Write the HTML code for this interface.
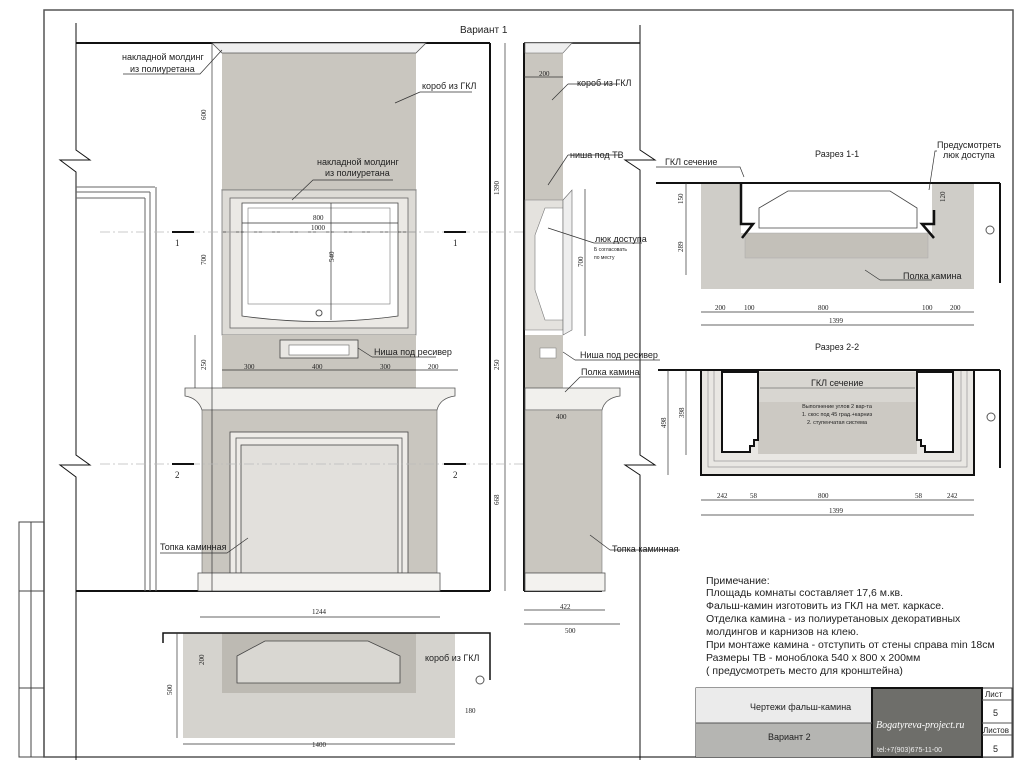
<!DOCTYPE html>
<html><head><meta charset="utf-8"><style>
html,body{margin:0;padding:0;background:#fff;}
svg{display:block;font-family:"Liberation Sans","Noto Sans CJK SC",sans-serif;}
.t{font-size:9px;fill:#222}
.d{font-family:"Liberation Serif",serif;font-size:7px;fill:#222}
</style></head><body>
<svg width="1024" height="768" viewBox="0 0 1024 768" xmlns="http://www.w3.org/2000/svg">
<rect width="1024" height="768" fill="#fff"/>
<!-- frame -->
<rect x="44" y="10" width="969" height="747" fill="none" stroke="#555" stroke-width="1.5"/>
<!-- stamp -->
<g stroke="#444" fill="none" stroke-width="1">
<rect x="19" y="522" width="25" height="235"/><line x1="31" y1="522" x2="31" y2="757"/>
<line x1="19" y1="591" x2="44" y2="591"/><line x1="19" y1="688" x2="44" y2="688"/>
</g>
<!-- FRONT VIEW -->
<g stroke="#111" fill="none">
<line x1="76" y1="43" x2="490" y2="43" stroke-width="2"/>
<line x1="490" y1="43" x2="490" y2="591" stroke-width="2"/>
<line x1="76" y1="591" x2="490" y2="591" stroke-width="2"/>
<polyline points="76,23 76,150 90,160 60,160 76,172 76,455 90,465 60,465 76,477 76,760" stroke-width="1"/>
</g>
<!-- door -->
<g stroke="#666" fill="none" stroke-width="1">
<line x1="76" y1="187" x2="155" y2="187"/><line x1="76" y1="192" x2="150" y2="192"/><line x1="76" y1="198" x2="145" y2="198"/>
<line x1="145" y1="198" x2="145" y2="591"/><line x1="150" y1="192" x2="150" y2="591"/><line x1="156" y1="187" x2="156" y2="591"/>
</g>
<!-- upper box -->
<rect x="222" y="53" width="194" height="137" fill="#c9c6bf"/>
<polygon points="212,43 426,43 416,53 222,53" fill="#eee" stroke="#555" stroke-width="0.8"/>
<polygon points="222,190 416,190 408,198 230,198" fill="#eee" stroke="#555" stroke-width="0.8"/>
<rect x="222" y="190" width="194" height="145" fill="#dddbd6" stroke="#777" stroke-width="0.8"/>
<rect x="230" y="198" width="178" height="130" fill="#ebe9e5" stroke="#666" stroke-width="0.8"/>
<path d="M242,203 H398 V316 Q320,327 242,316 Z" fill="#fff" stroke="#444" stroke-width="0.8"/>
<rect x="248" y="208" width="142" height="96" fill="none" stroke="#777" stroke-width="0.6"/>
<circle cx="319" cy="313" r="3" fill="none" stroke="#555"/>
<rect x="222" y="335" width="194" height="53" fill="#c9c6bf"/>
<rect x="280" y="340" width="78" height="18" fill="#e8e6e2" stroke="#444" stroke-width="0.8"/>
<rect x="289" y="345" width="60" height="10" fill="#fff" stroke="#666" stroke-width="0.6"/>
<!-- mantel -->
<path d="M185,388 H455 V396 Q440,398 437,410 H202 Q198,398 185,396 Z" fill="#f1f0ed" stroke="#555" stroke-width="0.8"/>
<rect x="202" y="410" width="235" height="163" fill="#c9c6bf" stroke="#666" stroke-width="0.6"/>
<rect x="230" y="432" width="178" height="141" fill="#eeece8" stroke="#444" stroke-width="0.8"/>
<rect x="236" y="438" width="166" height="135" fill="none" stroke="#555" stroke-width="0.8"/>
<rect x="241" y="445" width="157" height="128" fill="#e2e0dc" stroke="#444" stroke-width="0.8"/>
<rect x="198" y="573" width="242" height="18" fill="#f3f2ef" stroke="#555" stroke-width="0.8"/>
<!-- dims front -->
<g stroke="#333" stroke-width="0.7" fill="none">
<line x1="212" y1="43" x2="212" y2="591"/>
<line x1="505" y1="43" x2="505" y2="591"/>
<line x1="222" y1="232" x2="416" y2="232"/><line x1="242" y1="223" x2="398" y2="223"/>
<line x1="331" y1="203" x2="331" y2="320"/>
<line x1="222" y1="370" x2="458" y2="370"/>
<line x1="195" y1="335" x2="195" y2="388"/>
<line x1="200" y1="617" x2="440" y2="617"/>
<line x1="100" y1="232" x2="540" y2="232" stroke="#bbb" stroke-dasharray="10 3 2 3"/>
<line x1="100" y1="464" x2="540" y2="464" stroke="#bbb" stroke-dasharray="10 3 2 3"/>
</g>
<g stroke="#111" stroke-width="2"><line x1="172" y1="232" x2="194" y2="232"/><line x1="444" y1="232" x2="466" y2="232"/><line x1="172" y1="464" x2="194" y2="464"/><line x1="444" y1="464" x2="466" y2="464"/></g>
<g class="d">
<text x="175" y="246" font-size="9">1</text><text x="453" y="246" font-size="9">1</text>
<text x="175" y="478" font-size="9">2</text><text x="453" y="478" font-size="9">2</text>
<text x="313" y="220">800</text><text x="311" y="230">1000</text>
<text x="244" y="369">300</text><text x="312" y="369">400</text><text x="380" y="369">300</text><text x="428" y="369">200</text>
<text x="312" y="614">1244</text><text x="312" y="747">1400</text>
<text x="206" y="120" transform="rotate(-90 206 120)">600</text>
<text x="206" y="265" transform="rotate(-90 206 265)">700</text>
<text x="334" y="262" transform="rotate(-90 334 262)">540</text>
<text x="206" y="370" transform="rotate(-90 206 370)">250</text>
<text x="499" y="195" transform="rotate(-90 499 195)">1390</text>
<text x="499" y="370" transform="rotate(-90 499 370)">250</text>
<text x="499" y="505" transform="rotate(-90 499 505)">668</text>
</g>
<g class="t">
<text x="460" y="33" font-size="10">Вариант 1</text>
<text x="122" y="60">накладной молдинг</text><text x="130" y="72">из полиуретана</text>
<text x="422" y="89">короб из ГКЛ</text>
<text x="317" y="165">накладной молдинг</text><text x="325" y="176">из полиуретана</text>
<text x="374" y="355">Ниша под ресивер</text>
<text x="160" y="550">Топка каминная</text>
</g>
<g stroke="#333" stroke-width="0.7" fill="none">
<polyline points="123,74 200,74 222,50"/><polyline points="420,92 472,92"/><line x1="420" y1="92" x2="395" y2="103"/>
<polyline points="393,180 313,180 292,200"/><polyline points="372,357 436,357"/><line x1="372" y1="357" x2="358" y2="348"/>
<polyline points="160,553 227,553 248,538"/>
</g>
<!-- plan bottom -->
<rect x="183" y="633" width="272" height="105" fill="#d5d3ce"/>
<rect x="222" y="633" width="194" height="60" fill="#bdbab3"/>
<polygon points="265,641 368,641 400,656 400,683 237,683 237,656" fill="#d9d7d2" stroke="#444" stroke-width="0.8"/>
<polyline points="163,643 163,633 490,633 490,680" fill="none" stroke="#111" stroke-width="1.5"/>
<circle cx="480" cy="680" r="4" fill="none" stroke="#555"/>
<text class="t" x="425" y="661">короб из ГКЛ</text>
<g class="d"><text x="204" y="665" transform="rotate(-90 204 665)">200</text><text x="172" y="695" transform="rotate(-90 172 695)">500</text><text x="465" y="713">180</text></g>
<line x1="183" y1="744" x2="455" y2="744" stroke="#333" stroke-width="0.7"/>
<line x1="177" y1="633" x2="177" y2="738" stroke="#333" stroke-width="0.7"/>
<!-- SIDE VIEW -->
<g stroke="#111" fill="none">
<line x1="524" y1="43" x2="524" y2="591" stroke-width="2"/>
<line x1="524" y1="43" x2="640" y2="43" stroke-width="1.5"/>
<polyline points="640,25 640,150 655,160 625,160 640,170 640,455 655,465 625,465 640,475 640,760" stroke-width="1"/>
<line x1="524" y1="591" x2="602" y2="591" stroke-width="2"/>
</g>
<rect x="525" y="53" width="38" height="147" fill="#c9c6bf"/>
<polygon points="525,43 572,43 563,53 525,53" fill="#eee" stroke="#666" stroke-width="0.6"/>
<rect x="525" y="200" width="38" height="130" fill="#e4e2de" stroke="#888" stroke-width="0.6"/>
<polygon points="545,208 563,208 563,320 545,320 535,290 535,235" fill="#fff" stroke="#777" stroke-width="0.6"/>
<polygon points="563,200 572,190 572,330 563,335" fill="#eee" stroke="#666" stroke-width="0.6"/>
<rect x="525" y="335" width="38" height="53" fill="#c9c6bf"/>
<rect x="540" y="348" width="16" height="10" fill="#fff" stroke="#777" stroke-width="0.5"/>
<path d="M525,388 H620 V396 Q605,398 602,410 H525 Z" fill="#f1f0ed" stroke="#555" stroke-width="0.8"/>
<rect x="525" y="410" width="77" height="163" fill="#c9c6bf" stroke="#777" stroke-width="0.6"/>
<rect x="525" y="573" width="80" height="18" fill="#f3f2ef" stroke="#555" stroke-width="0.8"/>
<g stroke="#333" stroke-width="0.7" fill="none">
<line x1="524" y1="77" x2="563" y2="77"/><line x1="585" y1="189" x2="585" y2="336"/>
<line x1="524" y1="610" x2="605" y2="610"/><line x1="524" y1="624" x2="620" y2="624"/>
<polyline points="568,84 620,84"/><line x1="568" y1="84" x2="552" y2="100"/>
<polyline points="568,155 620,155"/><line x1="568" y1="155" x2="548" y2="185"/>
<polyline points="594,243 642,243"/><line x1="594" y1="243" x2="548" y2="228"/>
<polyline points="575,360 660,360"/><line x1="575" y1="360" x2="563" y2="352"/>
<polyline points="580,377 640,377"/><line x1="580" y1="377" x2="565" y2="392"/>
<polyline points="610,550 680,550"/><line x1="610" y1="550" x2="590" y2="535"/>
</g>
<g class="d"><text x="539" y="76">200</text><text x="556" y="419">400</text><text x="560" y="609">422</text><text x="565" y="633">500</text>
<text x="583" y="267" transform="rotate(-90 583 267)">700</text></g>
<g class="t">
<text x="577" y="86">короб из ГКЛ</text>
<text x="570" y="158">ниша под ТВ</text>
<text x="595" y="242">люк доступа</text>
<text x="594" y="251" font-size="5">Б согласовать</text><text x="594" y="259" font-size="5">по месту</text>
<text x="580" y="358">Ниша под ресивер</text>
<text x="581" y="375">Полка камина</text>
<text x="612" y="552">Топка каминная</text>
</g>
<!-- SECTION 1-1 -->
<text class="t" x="815" y="157" font-size="11">Разрез 1-1</text>
<rect x="701" y="183" width="273" height="106" fill="#cfcdc8"/>
<rect x="741" y="183" width="191" height="50" fill="#fff"/>
<rect x="745" y="233" width="183" height="25" fill="#c3c0b9" stroke="#aaa" stroke-width="0.5"/>
<polygon points="788,191 890,191 917,208 917,228 759,228 759,208" fill="#fff" stroke="#444" stroke-width="0.8"/>
<line x1="656" y1="183" x2="1000" y2="183" stroke="#111" stroke-width="2"/>
<line x1="1000" y1="183" x2="1000" y2="283" stroke="#111" stroke-width="2"/>
<polyline points="741,183 741,224 753,224 742,238" fill="none" stroke="#111" stroke-width="2.5"/>
<polyline points="934,210 934,224 922,224 934,238" fill="none" stroke="#111" stroke-width="2.5"/>
<circle cx="990" cy="230" r="4" fill="none" stroke="#555"/>
<g stroke="#333" stroke-width="0.7" fill="none">
<line x1="686" y1="183" x2="686" y2="275"/>
<line x1="701" y1="312" x2="974" y2="312"/><line x1="701" y1="325" x2="974" y2="325"/>
<polyline points="656,167 740,167 744,177"/><polyline points="937,151 935,151 929,190"/>
<polyline points="880,280 932,280"/><line x1="880" y1="280" x2="865" y2="270"/>
</g>
<g class="t"><text x="665" y="165">ГКЛ сечение</text><text x="937" y="148">Предусмотреть</text><text x="943" y="158">люк  доступа</text><text x="903" y="279">Полка камина</text></g>
<g class="d"><text x="715" y="310">200</text><text x="744" y="310">100</text><text x="818" y="310">800</text><text x="922" y="310">100</text><text x="950" y="310">200</text><text x="829" y="323">1399</text>
<text x="683" y="204" transform="rotate(-90 683 204)">150</text><text x="683" y="252" transform="rotate(-90 683 252)">289</text><text x="945" y="202" transform="rotate(-90 945 202)">120</text></g>
<!-- SECTION 2-2 -->
<text class="t" x="815" y="350" font-size="11">Разрез 2-2</text>
<rect x="701" y="370" width="273" height="105" fill="#e9e7e3" stroke="#111" stroke-width="2"/>
<rect x="708" y="370" width="259" height="97" fill="none" stroke="#888" stroke-width="0.6"/>
<rect x="714" y="370" width="247" height="91" fill="none" stroke="#888" stroke-width="0.6"/>
<rect x="758" y="372" width="159" height="30" fill="#d8d6d1"/>
<rect x="758" y="402" width="159" height="52" fill="#ccc9c3"/>
<polygon points="722,372 758,372 758,440 754,440 754,446 750,446 750,452 722,452" fill="#fff" stroke="#111" stroke-width="2"/>
<polygon points="917,372 953,372 953,452 925,452 925,446 921,446 921,440 917,440" fill="#fff" stroke="#111" stroke-width="2"/>
<line x1="658" y1="370" x2="1000" y2="370" stroke="#111" stroke-width="2"/>
<line x1="1000" y1="370" x2="1000" y2="468" stroke="#111" stroke-width="2"/>
<circle cx="991" cy="417" r="4" fill="none" stroke="#555"/>
<line x1="760" y1="388" x2="915" y2="388" stroke="#444" stroke-width="0.6"/>
<text class="t" x="811" y="386">ГКЛ сечение</text>
<g class="t" font-size="5.5" text-anchor="middle"><text x="837" y="408" font-size="5.5">Выполнение углов 2 вар-та</text><text x="837" y="416" font-size="5.5">1. скос под 45 град.+карниз</text><text x="837" y="424" font-size="5.5">2. ступенчатая система</text></g>
<g stroke="#333" stroke-width="0.7" fill="none">
<line x1="668" y1="370" x2="668" y2="475"/><line x1="686" y1="370" x2="686" y2="455"/>
<line x1="701" y1="500" x2="974" y2="500"/><line x1="701" y1="515" x2="974" y2="515"/>
</g>
<g class="d"><text x="717" y="498">242</text><text x="750" y="498">58</text><text x="818" y="498">800</text><text x="915" y="498">58</text><text x="947" y="498">242</text><text x="829" y="513">1399</text>
<text x="666" y="428" transform="rotate(-90 666 428)">498</text><text x="684" y="418" transform="rotate(-90 684 418)">398</text></g>
<!-- notes -->
<g class="t" font-size="10.5" style="font-size:10.5px">
<text x="706" y="584">Примечание:</text>
<text x="706" y="596">Площадь комнаты составляет 17,6 м.кв.</text>
<text x="706" y="609">Фальш-камин изготовить из ГКЛ на мет. каркасе.</text>
<text x="706" y="622">Отделка камина - из полиуретановых декоративных</text>
<text x="706" y="635">молдингов и карнизов на клею.</text>
<text x="706" y="648">При монтаже камина - отступить от стены справа min 18см</text>
<text x="706" y="661">Размеры ТВ - моноблока   540 x 800 x 200мм</text>
<text x="706" y="674">( предусмотреть место для кронштейна)</text>
</g>
<!-- title block -->
<rect x="696" y="688" width="316" height="69" fill="#fff" stroke="#333"/>
<rect x="696" y="688" width="176" height="35" fill="#ebebeb"/>
<rect x="696" y="723" width="176" height="34" fill="#b5b5b2"/>
<rect x="872" y="688" width="110" height="69" fill="#6e6e6a" stroke="#111" stroke-width="2"/>
<line x1="982" y1="700" x2="1012" y2="700" stroke="#555"/><line x1="982" y1="723" x2="1012" y2="723" stroke="#555"/><line x1="982" y1="735" x2="1012" y2="735" stroke="#555"/>
<line x1="696" y1="723" x2="872" y2="723" stroke="#555"/>
<g class="t"><text x="750" y="710">Чертежи фальш-камина</text><text x="768" y="740">Вариант 2</text>
<text x="985" y="697" font-size="8">Лист</text><text x="993" y="716">5</text><text x="983" y="733" font-size="8">Листов</text><text x="993" y="752">5</text>
<text x="876" y="728" fill="#fff" font-style="italic" font-family="Liberation Serif,serif" font-size="10">Bogatyreva-project.ru</text>
<text x="877" y="752" fill="#eee" font-size="7">tel:+7(903)675-11-00</text></g>
</svg>
</body></html>
